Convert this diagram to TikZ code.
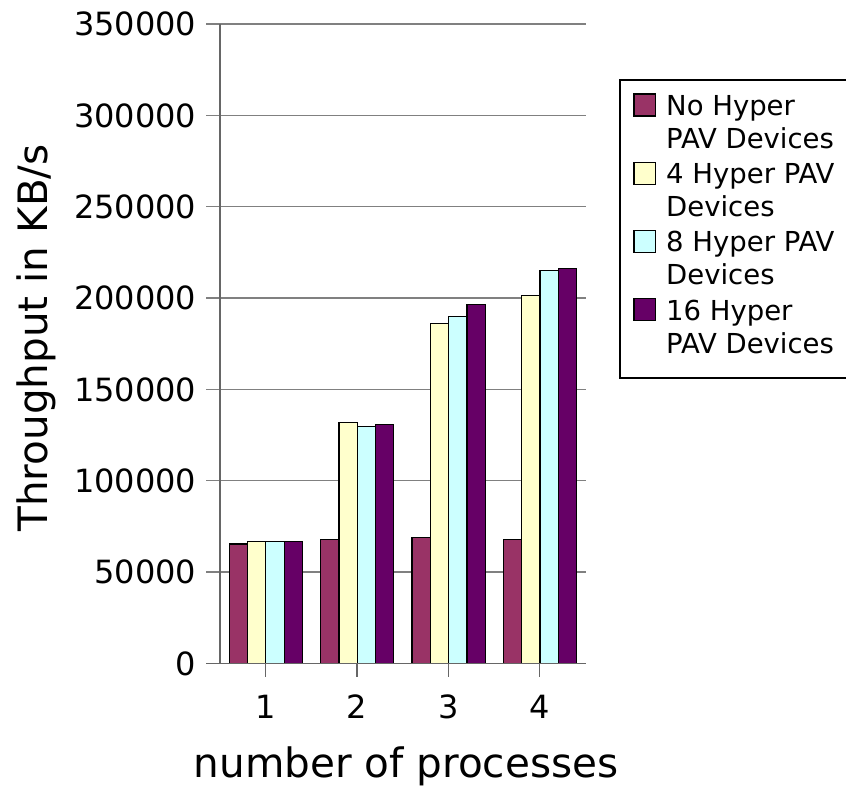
\documentclass[tikz,border=0pt]{standalone}
\usepackage{fontspec}
\setmainfont{DejaVu Sans}

\definecolor{serA}{HTML}{993366}
\definecolor{serB}{HTML}{FFFFCC}
\definecolor{serC}{HTML}{CCFFFF}
\definecolor{serD}{HTML}{660066}
\definecolor{gridgray}{HTML}{808080}

\tikzset{
  gridline/.style={draw=gridgray, line width=1.3pt},
  axisline/.style={draw=gridgray!80!black, line width=1.4pt},
  barline/.style={draw=black, line width=1.2pt},
  ticklabel/.style={inner sep=0pt, font=\fontsize{32}{38}\selectfont},
  axistitle/.style={inner sep=0pt, font=\fontsize{40.5}{48}\selectfont},
  legendtext/.style={inner sep=0pt, anchor=base west, font=\fontsize{27.5}{33}\selectfont},
  legendkey/.style={draw=black, line width=1.1pt},
}

\begin{document}
\begin{tikzpicture}[x=1pt, y=-1pt]
\useasboundingbox (0,0) rectangle (846,788);

% horizontal grid lines and value labels (values in thousands, 1.8266 px per thousand)
\foreach \v/\lab in {0/0,50/50000,100/100000,150/150000,200/200000,250/250000,300/300000,350/350000} {
  \draw[gridline] (206,{663.3-\v*1.8266}) -- (585.5,{663.3-\v*1.8266});
  \node[ticklabel, anchor=base east] (ylab\v) at (196.5,{663.3-\v*1.8266+11.7}) {\lab};
}

% bars: one group of four per process count
\foreach \g/\a/\b/\c/\d in {0/65.3/66.6/66.6/66.6, 1/67.9/131.9/129.5/130.8, 2/69.0/186.1/190.0/196.3, 3/67.9/201.5/214.9/216.3} {
  \pgfmathsetmacro\xl{229.2+\g*91.4}
  \draw[barline, fill=serA] (\xl,663.3) rectangle ++(18.3,{-\a*1.8266});
  \draw[barline, fill=serB] (\xl+18.3,663.3) rectangle ++(18.3,{-\b*1.8266});
  \draw[barline, fill=serC] (\xl+36.6,663.3) rectangle ++(18.3,{-\c*1.8266});
  \draw[barline, fill=serD] (\xl+54.9,663.3) rectangle ++(18.3,{-\d*1.8266});
}

% axes
\draw[axisline] (220,24) -- (220,663.3);
\draw[axisline] (206,663.3) -- (585.5,663.3);

% category ticks and labels
\foreach \i in {1,2,3,4} {
  \pgfmathsetmacro\xc{219.8+(\i-0.5)*91.4}
  \draw[axisline] (\xc,663.3) -- (\xc,677);
  \node[ticklabel, anchor=base] (xlab\i) at (\xc,718) {\i};
}

% axis titles
\node[axistitle, anchor=base] (xtitle) at (406,777.5) {number of processes};
\node[axistitle, anchor=base, rotate=90] (ytitle) at (47.5,338) {Throughput in KB/s};

% legend
\draw[draw=black, line width=1.2pt] (620,80) rectangle (852,378);
\foreach \k/\col/\la/\lb in {0/serA/{No Hyper}/{PAV Devices}, 1/serB/{4 Hyper PAV}/{Devices}, 2/serC/{8 Hyper PAV}/{Devices}, 3/serD/{16 Hyper}/{PAV Devices}} {
  \pgfmathsetmacro\yb{115.5+\k*68.2}
  \draw[legendkey, fill=\col] (634,\yb-21.5) rectangle (655.5,\yb+0.5);
  \node[legendtext] (leg\k a) at (666,\yb) {\la};
  \node[legendtext] (leg\k b) at (666,\yb+33) {\lb};
}
\end{tikzpicture}
\end{document}
